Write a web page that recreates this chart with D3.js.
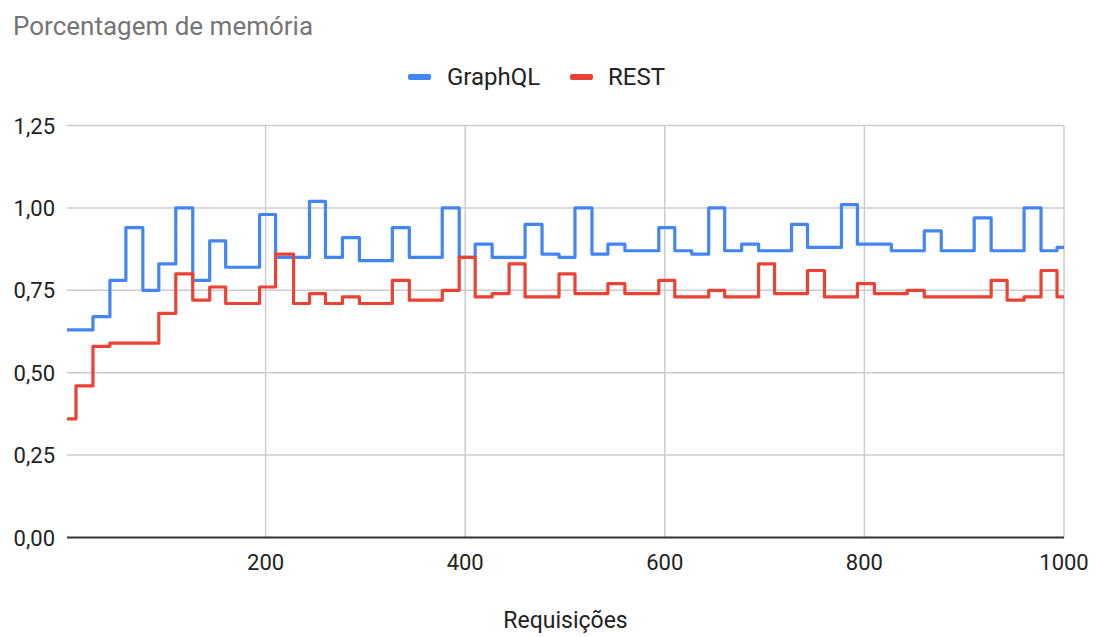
<!DOCTYPE html>
<html>
<head>
<meta charset="utf-8">
<script src="https://cdn.jsdelivr.net/npm/d3@7"></script>
<style>
  html, body { margin: 0; padding: 0; background: #fff; }
  svg { display: block; font-family: Roboto, "Noto Sans", Arial, sans-serif; }
</style>
</head>
<body>
<svg id="chart" width="1099" height="637"></svg>
<script>
// ---- data ----
const chartTitle = "Porcentagem de memória";
const xAxisTitle = "Requisições";
const seriesNames = ["GraphQL", "REST"];
const seriesColors = ["#4285F4", "#EA4335"];

// request number where each step begins
const requests = [1, 10, 27, 44, 60, 77, 93, 110, 127, 144, 160, 177, 194, 210, 228, 244,
  260, 277, 294, 311, 327, 344, 361, 377, 394, 410, 427, 444, 460, 477, 494,
  510, 527, 543, 560, 577, 594, 610, 627, 644, 660, 677, 694, 710, 727, 743,
  760, 777, 793, 810, 827, 843, 860, 877, 893, 910, 927, 943, 960, 977, 993];
const lastRequest = 1000;

const graphql = [0.63, 0.63, 0.67, 0.78, 0.94, 0.75, 0.83, 1.00, 0.78, 0.90, 0.82, 0.82, 0.98, 0.85, 0.85, 1.02,
  0.85, 0.91, 0.84, 0.84, 0.94, 0.85, 0.85, 1.00, 0.85, 0.89, 0.85, 0.85, 0.95, 0.86, 0.85,
  1.00, 0.86, 0.89, 0.87, 0.87, 0.94, 0.87, 0.86, 1.00, 0.87, 0.89, 0.87, 0.87, 0.95, 0.88,
  0.88, 1.01, 0.89, 0.89, 0.87, 0.87, 0.93, 0.87, 0.87, 0.97, 0.87, 0.87, 1.00, 0.87, 0.88];

const rest = [0.36, 0.46, 0.58, 0.59, 0.59, 0.59, 0.68, 0.80, 0.72, 0.76, 0.71, 0.71, 0.76, 0.86, 0.71, 0.74,
  0.71, 0.73, 0.71, 0.71, 0.78, 0.72, 0.72, 0.75, 0.85, 0.73, 0.74, 0.83, 0.73, 0.73, 0.80,
  0.74, 0.74, 0.77, 0.74, 0.74, 0.78, 0.73, 0.73, 0.75, 0.73, 0.73, 0.83, 0.74, 0.74, 0.81,
  0.73, 0.73, 0.77, 0.74, 0.74, 0.75, 0.73, 0.73, 0.73, 0.73, 0.78, 0.72, 0.73, 0.81, 0.73];

const xTicks = [200, 400, 600, 800, 1000];
const yTicks = [0, 0.25, 0.5, 0.75, 1.0, 1.25];

// ---- layout ----
const svg = d3.select("#chart");
const plot = { left: 67, right: 1064, top: 125.5, bottom: 537.5 };

const x = d3.scaleLinear().domain([1, lastRequest]).range([plot.left, plot.right]);
const y = d3.scaleLinear().domain([0, 1.25]).range([plot.bottom, plot.top]);

const locale = d3.formatLocale({ decimal: ",", thousands: ".", grouping: [3], currency: ["", ""] });
const fmtY = locale.format(".2f");

// horizontal gridlines
svg.append("g").selectAll("line").data(yTicks.filter(d => d !== 0)).join("line")
  .attr("x1", plot.left).attr("x2", plot.right)
  .attr("y1", d => y(d)).attr("y2", d => y(d))
  .attr("stroke", "#cccccc").attr("stroke-width", 1.5);

// vertical gridlines
svg.append("g").selectAll("line").data(xTicks).join("line")
  .attr("x1", d => x(d)).attr("x2", d => x(d))
  .attr("y1", plot.top).attr("y2", plot.bottom)
  .attr("stroke", "#cccccc").attr("stroke-width", 1.5);

// baseline
svg.append("line")
  .attr("x1", plot.left).attr("x2", plot.right)
  .attr("y1", y(0)).attr("y2", y(0))
  .attr("stroke", "#333333").attr("stroke-width", 2);

// y labels
svg.append("g").selectAll("text").data(yTicks).join("text")
  .attr("x", 55).attr("y", d => y(d) + 8)
  .attr("text-anchor", "end")
  .attr("font-size", 22).attr("fill", "#222222")
  .text(d => fmtY(d));

// x labels
svg.append("g").selectAll("text").data(xTicks).join("text")
  .attr("x", d => x(d)).attr("y", 570)
  .attr("text-anchor", "middle")
  .attr("font-size", 22).attr("fill", "#222222")
  .text(d => d);

// series lines
const seriesData = [graphql, rest];
const line = d3.line()
  .x(d => x(d[0])).y(d => y(d[1]))
  .curve(d3.curveStepAfter);

seriesData.forEach((vals, i) => {
  const pts = requests.map((r, j) => [r, vals[j]]);
  pts.push([lastRequest, vals[vals.length - 1]]);
  svg.append("path")
    .datum(pts)
    .attr("d", line)
    .attr("fill", "none")
    .attr("stroke", seriesColors[i])
    .attr("stroke-width", 3.2)
    .attr("stroke-linejoin", "round");
});

// title
svg.append("text")
  .attr("x", 13).attr("y", 35)
  .attr("font-size", 26).attr("fill", "#757575")
  .text(chartTitle);

// legend
const legendItems = [{ sx: 408, tx: 447 }, { sx: 570, tx: 608 }];
legendItems.forEach((p, i) => {
  svg.append("rect")
    .attr("x", p.sx).attr("y", 74).attr("width", 23).attr("height", 6)
    .attr("rx", 2).attr("fill", seriesColors[i]);
  svg.append("text")
    .attr("x", p.tx).attr("y", 85)
    .attr("font-size", 24).attr("fill", "#222222")
    .text(seriesNames[i]);
});

// x axis title
svg.append("text")
  .attr("x", (plot.left + plot.right) / 2).attr("y", 628)
  .attr("text-anchor", "middle")
  .attr("font-size", 23).attr("fill", "#222222")
  .text(xAxisTitle);
</script>
</body>
</html>
